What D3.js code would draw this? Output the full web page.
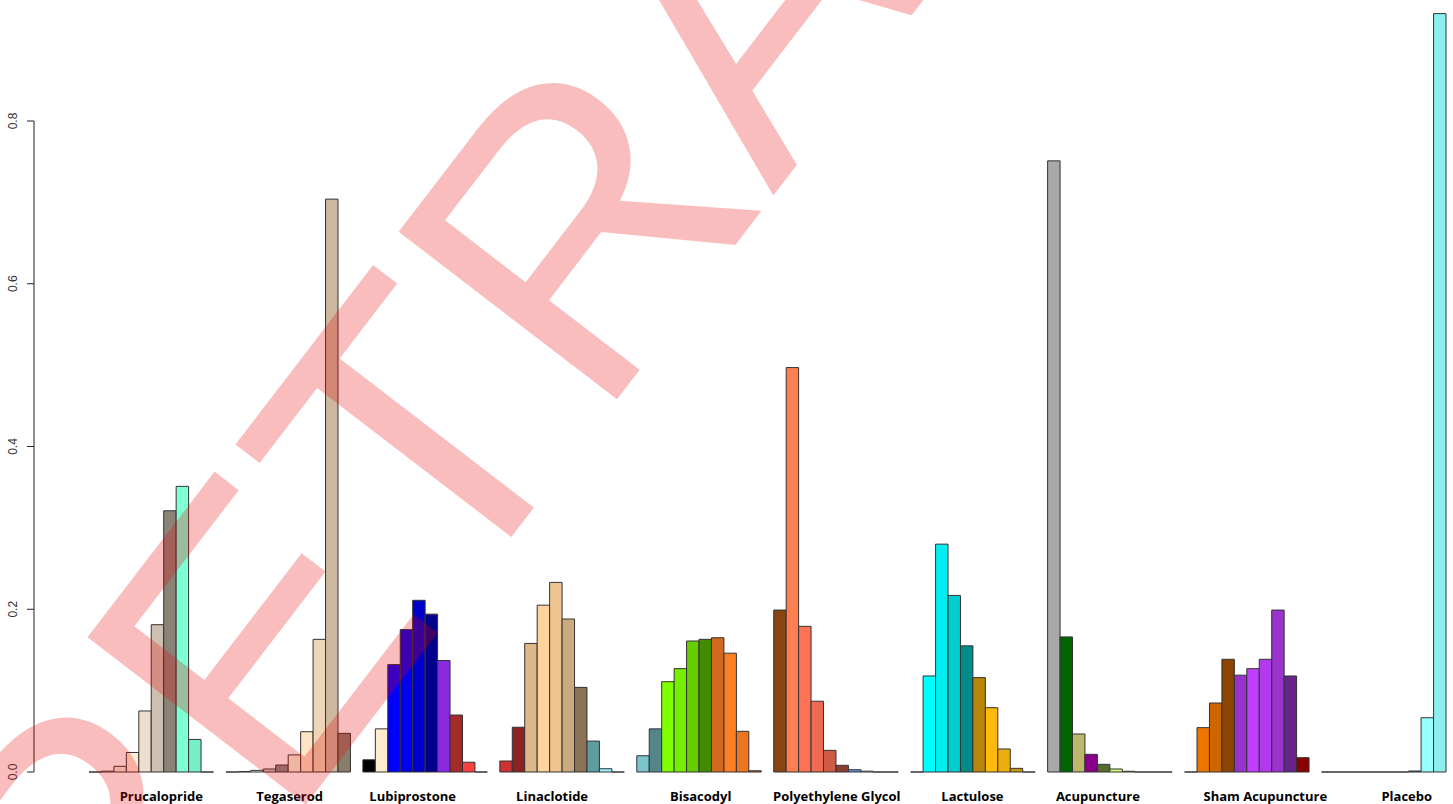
<!DOCTYPE html>
<html>
<head>
<meta charset="utf-8">
<script src="https://cdn.jsdelivr.net/npm/d3@7"></script>
<style>
  body { margin: 0; background: white; }
</style>
</head>
<body>
<div id="container"></div>
<script>
let w = 1453;
let h = 804;

// group names
let groups = ["Prucalopride", "Tegaserod", "Lubiprostone", "Linaclotide", "Bisacodyl",
  "Polyethylene Glycol", "Lactulose", "Acupuncture", "Sham Acupuncture", "Placebo"];

// probabilities per group (10 bars each)
let prucalopride = [0, 0.001, 0.007, 0.024, 0.075, 0.181, 0.321, 0.351, 0.040, 0];
let tegaserod = [0, 0.0005, 0.002, 0.0037, 0.0086, 0.021, 0.0495, 0.163, 0.704, 0.0475];
let lubiprostone = [0.015, 0.053, 0.132, 0.175, 0.211, 0.194, 0.137, 0.070, 0.012, 0];
let linaclotide = [0.0135, 0.055, 0.158, 0.205, 0.233, 0.188, 0.104, 0.038, 0.004, 0];
let bisacodyl = [0.020, 0.053, 0.111, 0.127, 0.161, 0.163, 0.165, 0.146, 0.050, 0.0015];
let polyethyleneGlycol = [0.199, 0.497, 0.179, 0.087, 0.0266, 0.0082, 0.0028, 0.001, 0, 0];
let lactulose = [0, 0.118, 0.280, 0.217, 0.155, 0.116, 0.079, 0.0283, 0.0045, 0];
let acupuncture = [0.751, 0.166, 0.0467, 0.0217, 0.0094, 0.0037, 0.0009, 0, 0, 0];
let shamAcupuncture = [0, 0.0545, 0.0848, 0.1385, 0.119, 0.127, 0.1385, 0.199, 0.118, 0.0176];
let placebo = [0, 0, 0, 0, 0, 0, 0, 0.0012, 0.0667, 0.932];

let seriesValues = [prucalopride, tegaserod, lubiprostone, linaclotide, bisacodyl,
  polyethyleneGlycol, lactulose, acupuncture, shamAcupuncture, placebo];

// bar colours (R colour names, in order)
let barColors = [
  ["#FFFFFF", "#F0F8FF", "#FAEBD7", "#FFEFDB", "#EEDFCC", "#CDC0B0", "#8B8378", "#7FFFD4", "#76EEC6", "#66CDAA"],
  ["#458B74", "#F0FFFF", "#E0EEEE", "#C1CDCD", "#838B8B", "#F5F5DC", "#FFE4C4", "#EED5B7", "#CDB79E", "#8B7D6B"],
  ["#000000", "#FFEBCD", "#0000FF", "#0000EE", "#0000CD", "#00008B", "#8A2BE2", "#A52A2A", "#FF4040", "#EE3B3B"],
  ["#CD3333", "#8B2323", "#DEB887", "#FFD39B", "#EEC591", "#CDAA7D", "#8B7355", "#5F9EA0", "#98F5FF", "#8EE5EE"],
  ["#7AC5CD", "#53868B", "#7FFF00", "#76EE00", "#66CD00", "#458B00", "#D2691E", "#FF7F24", "#EE7621", "#CD661D"],
  ["#8B4513", "#FF7F50", "#FF7256", "#EE6A50", "#CD5B45", "#8B3E2F", "#6495ED", "#FFF8DC", "#EEE8CD", "#CDC8B1"],
  ["#8B8878", "#00FFFF", "#00EEEE", "#00CDCD", "#008B8B", "#B8860B", "#FFB90F", "#EEAD0E", "#CD950C", "#8B6508"],
  ["#A9A9A9", "#006400", "#BDB76B", "#8B008B", "#556B2F", "#CAFF70", "#BCEE68", "#A2CD5A", "#6E8B3D", "#FF8C00"],
  ["#FF7F00", "#EE7600", "#CD6600", "#8B4500", "#9932CC", "#BF3EFF", "#B23AEE", "#9A32CD", "#68228B", "#8B0000"],
  ["#E9967A", "#8FBC8F", "#C1FFC1", "#B4EEB4", "#9BCD9B", "#698B69", "#483D8B", "#2F4F4F", "#97FFFF", "#8DEEEE"]
];

let yTicks = [0, 0.2, 0.4, 0.6, 0.8];

// labels were not placed exactly at the group centres in the original
let labelShift = [10, 1.5, -12.5, -10, 1.7, 0.8, -0.5, -12, 18.5, 23];

let viz = d3.select("#container")
  .append("svg")
  .attr("width", w)
  .attr("height", h)
  .style("background-color", "white")
  ;

// R barplot style: each group = 1 gap unit + 10 bar units
let barsPerGroup = 10;
let unitsPerGroup = barsPerGroup + 1;
let xScale = d3.scaleLinear().domain([0, groups.length * unitsPerGroup]).range([76.55, 1446]);
let yScale = d3.scaleLinear().domain([0, 0.8]).range([772, 121]);

// Y AXIS
let yAxisGroup = viz.append("g").attr("class", "yaxis");
yAxisGroup.append("line")
  .attr("x1", 34).attr("x2", 34)
  .attr("y1", yScale(0)).attr("y2", yScale(0.8))
  .attr("stroke", "#222").attr("stroke-width", 1);
yAxisGroup.selectAll(".tick").data(yTicks).enter()
  .append("line")
  .attr("class", "tick")
  .attr("x1", 27).attr("x2", 34)
  .attr("y1", d => yScale(d)).attr("y2", d => yScale(d))
  .attr("stroke", "#222");
yAxisGroup.selectAll(".ticklabel").data(yTicks).enter()
  .append("text")
  .attr("class", "ticklabel")
  .attr("transform", d => "translate(17, " + yScale(d) + ") rotate(-90)")
  .attr("text-anchor", "middle")
  .style("font-family", "'Liberation Sans', Arial, sans-serif")
  .style("font-size", "12px")
  .attr("fill", "#333")
  .text(d => d.toFixed(1));

// BARS
let flat = [];
seriesValues.forEach(function (vals, g) {
  vals.forEach(function (v, i) {
    flat.push({ group: g, index: i, value: v, color: barColors[g][i] });
  });
});

// a path instead of a rect so that zero bars still show as a line (like R)
function barPath(d) {
  let u = d.group * unitsPerGroup + 1 + d.index;
  let x0 = xScale(u);
  let x1 = xScale(u + 1);
  let y0 = yScale(0);
  let y1 = yScale(d.value);
  return "M" + x0 + "," + y0 + "V" + y1 + "H" + x1 + "V" + y0 + "Z";
}

viz.append("g").attr("class", "bars")
  .selectAll("path").data(flat).enter()
  .append("path")
  .attr("d", barPath)
  .attr("fill", d => d.color)
  .attr("stroke", "#333")
  .attr("stroke-width", 1)
  ;

// GROUP LABELS
viz.append("g").attr("class", "labels")
  .selectAll("text").data(groups).enter()
  .append("text")
  .attr("x", (d, g) => xScale(g * unitsPerGroup + 1 + barsPerGroup / 2) + labelShift[g])
  .attr("y", 801)
  .attr("text-anchor", "middle")
  .style("font-family", "'Open Sans', 'Noto Sans', sans-serif")
  .style("font-weight", "bold")
  .style("font-size", "13px")
  .attr("fill", "#000")
  .text(d => d);

// WATERMARK
viz.append("text")
  .attr("transform", "translate(110, 1060) rotate(-52.5)")
  .style("font-family", "'Liberation Sans', Arial, sans-serif")
  .style("font-size", "400px")
  .attr("fill", "rgb(230, 0, 0)")
  .attr("fill-opacity", 0.26)
  .text("RETRACTED");
</script>
</body>
</html>
